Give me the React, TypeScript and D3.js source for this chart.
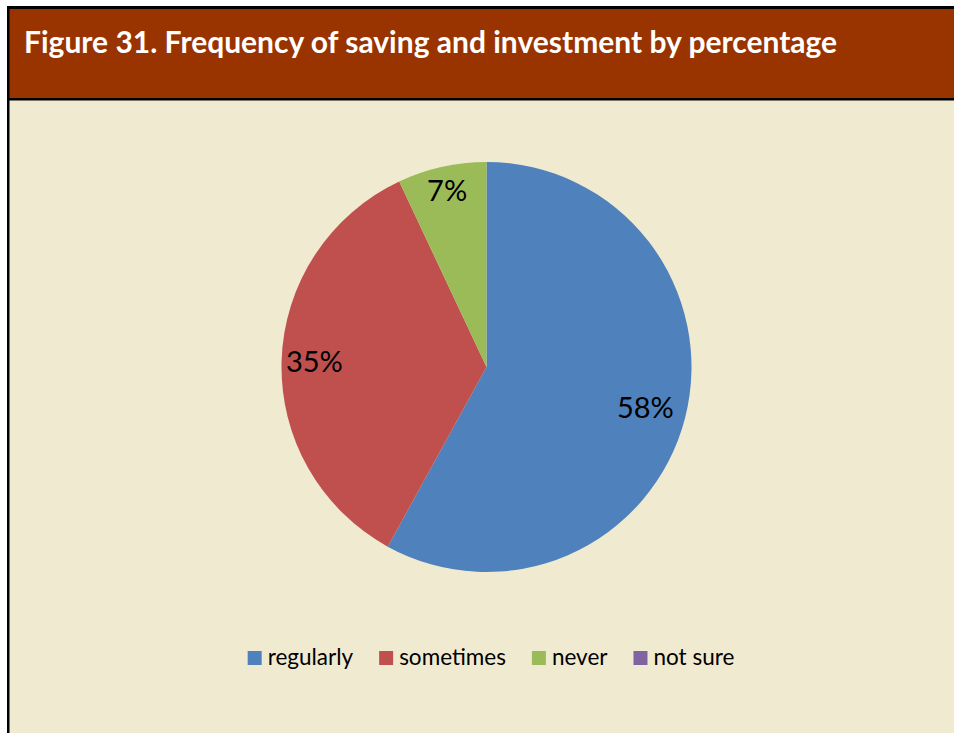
import React, { useEffect, useRef } from "react";
import * as d3 from "d3";

const categories = ["regularly", "sometimes", "never", "not sure"];
const values = [58, 35, 7, 0];
const labels = ["58%", "35%", "7%", ""];
const colors = ["#4F81BD", "#C0504D", "#9BBB59", "#8064A2"];
const labelRadius = [0.8, 0.84, 0.88, 0.8];
const title = "Figure 31. Frequency of saving and investment by percentage";

const W = 954;
const H = 733;
const FONT = "Lato, 'Open Sans', sans-serif";

export default function App() {
  const ref = useRef<SVGSVGElement>(null);
  useEffect(() => {
    const svg = d3.select(ref.current);
    svg.selectAll("*").remove();

    // frame
    svg.append("rect").attr("x", 7).attr("y", 6).attr("width", W).attr("height", H).attr("fill", "#000");
    svg.append("rect").attr("x", 9.5).attr("y", 9).attr("width", W).attr("height", 89).attr("fill", "#993300");
    svg.append("rect").attr("x", 9.5).attr("y", 100.5).attr("width", W).attr("height", H).attr("fill", "#F0EAD0");

    svg.append("text")
      .attr("x", 24)
      .attr("y", 53)
      .attr("fill", "#fff")
      .attr("font-family", FONT)
      .attr("font-weight", "bold")
      .attr("font-size", 30)
      .text(title);

    const cx = 486.5, cy = 367, r = 205;
    const data = categories.map((c, i) => ({ c, v: values[i], i }));
    const pie = d3.pie<any>().value((d) => d.v).sort(null);
    const arcs = pie(data);
    const arc = d3.arc<any>().innerRadius(0).outerRadius(r);
    const g = svg.append("g").attr("transform", `translate(${cx},${cy})`);
    g.selectAll("path")
      .data(arcs.filter((a) => a.data.v > 0))
      .join("path")
      .attr("d", arc)
      .attr("fill", (d) => colors[d.data.i]);

    arcs.forEach((a) => {
      if (!labels[a.data.i]) return;
      const m = (a.startAngle + a.endAngle) / 2;
      const lr = r * labelRadius[a.data.i];
      g.append("text")
        .attr("x", Math.sin(m) * lr)
        .attr("y", -Math.cos(m) * lr)
        .attr("dy", "0.35em")
        .attr("text-anchor", "middle")
        .attr("font-family", FONT)
        .attr("font-size", 29)
        .attr("fill", "#000")
        .text(labels[a.data.i]);
    });

    // legend
    const lg = svg.append("g");
    const sq = 14, gap = 6, spacing = 26, ly = 658;
    const items = categories.map((c, i) => {
      const t = lg.append("text")
        .attr("font-family", FONT)
        .attr("font-size", 22.5)
        .attr("fill", "#000")
        .attr("y", ly + 7)
        .text(c);
      const w = (t.node() as SVGTextElement).getComputedTextLength();
      return { t, w, i };
    });
    const total = items.reduce((s, it) => s + sq + gap + it.w, 0) + spacing * (items.length - 1);
    let x = 491 - total / 2;
    items.forEach((it) => {
      lg.append("rect").attr("x", x).attr("y", ly - sq / 2).attr("width", sq).attr("height", sq).attr("fill", colors[it.i]);
      it.t.attr("x", x + sq + gap);
      x += sq + gap + it.w + spacing;
    });
  }, []);
  return (
    <svg ref={ref} width={W} height={H} style={{ position: "absolute", left: 0, top: 0 }} />
  );
}
